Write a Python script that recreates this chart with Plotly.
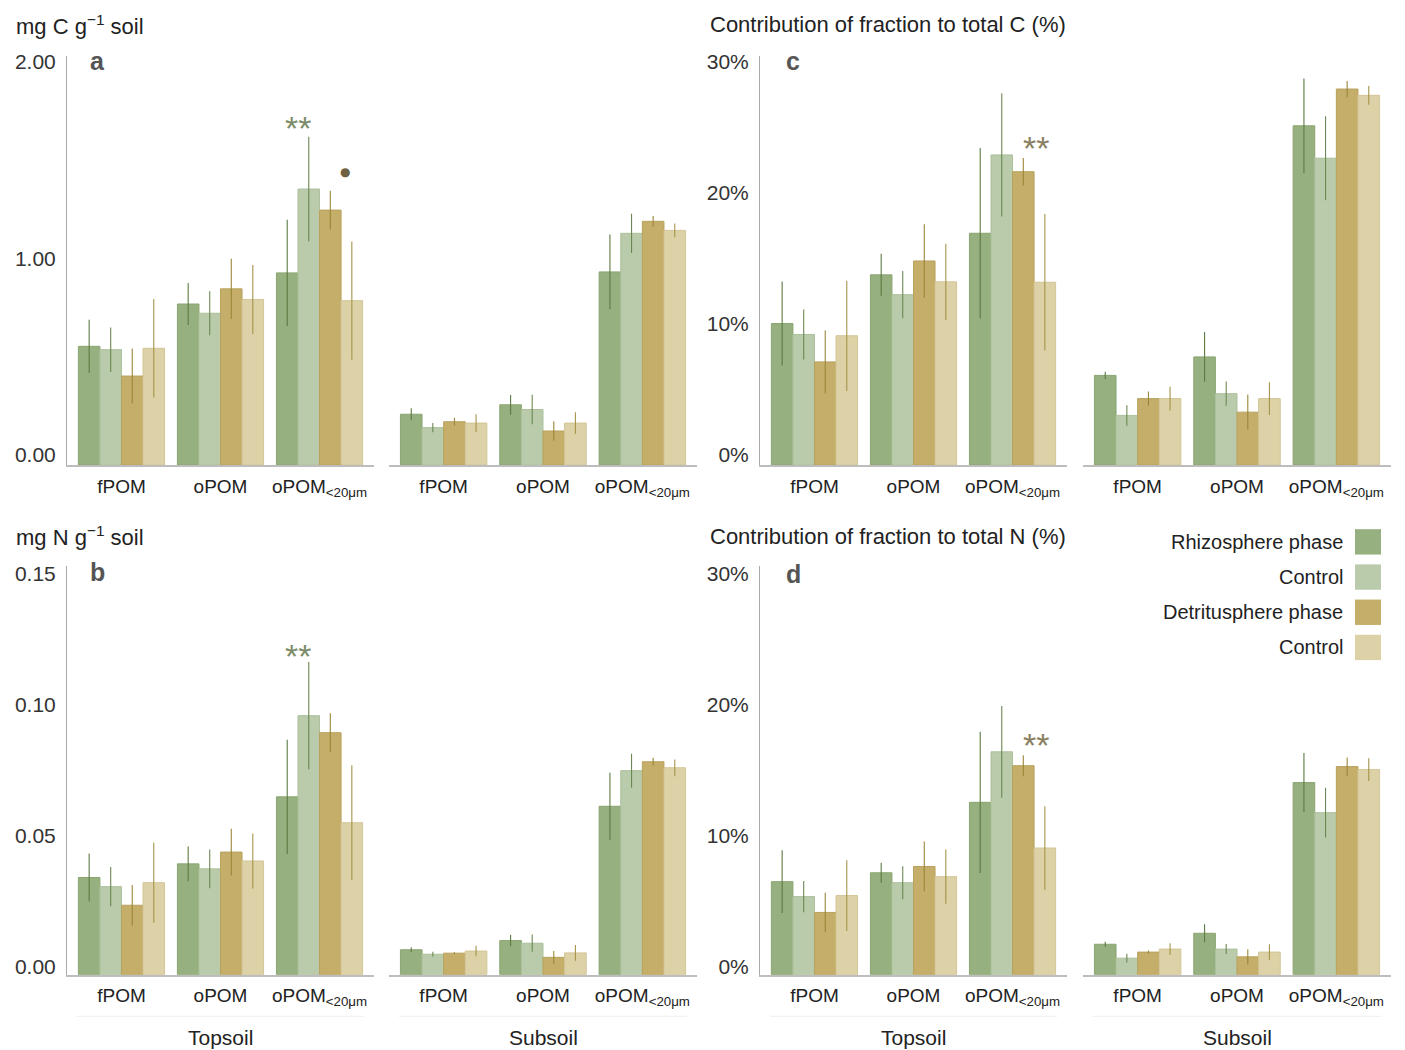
import plotly.graph_objects as go

# ---------------- data ----------------
categories = ["fPOM", "oPOM", "oPOM<sub>&lt;20μm</sub>"]
series = ["Rhizosphere phase", "Control", "Detritusphere phase", "Control"]
soils = ["Topsoil", "Subsoil"]

# rows = series (Rhizosphere, Control, Detritusphere, Control); cols = categories
# Panel a: mg C g-1 soil
a_top = [[0.603, 0.818, 0.976], [0.586, 0.771, 1.402], [0.452, 0.895, 1.295], [0.593, 0.841, 0.835]]
a_top_err = [[0.135, 0.107, 0.27], [0.113, 0.112, 0.266], [0.14, 0.153, 0.098], [0.25, 0.175, 0.30]]
a_sub = [[0.258, 0.306, 0.981], [0.19, 0.282, 1.177], [0.22, 0.173, 1.238], [0.213, 0.213, 1.192]]
a_sub_err = [[0.03, 0.05, 0.19], [0.023, 0.075, 0.10], [0.019, 0.05, 0.027], [0.045, 0.055, 0.035]]

# Panel b: mg N g-1 soil
b_top = [[0.0371, 0.0423, 0.0679], [0.0336, 0.0404, 0.0989], [0.0265, 0.0468, 0.0924], [0.0351, 0.0434, 0.058]]
b_top_err = [[0.0092, 0.0066, 0.0218], [0.0075, 0.0074, 0.0205], [0.0077, 0.0089, 0.0074], [0.0153, 0.0105, 0.022]]
b_sub = [[0.0095, 0.013, 0.0643], [0.0078, 0.012, 0.0779], [0.0082, 0.0066, 0.0813], [0.009, 0.0083, 0.079]]
b_sub_err = [[0.001, 0.0022, 0.0128], [0.0009, 0.0033, 0.0065], [0.0003, 0.0024, 0.0015], [0.002, 0.003, 0.0032]]

# Panel c: contribution of fraction to total C (%)
c_top = [[10.78, 14.49, 17.66], [9.95, 12.98, 23.63], [7.86, 15.55, 22.35], [9.85, 13.96, 13.93]]
c_top_err = [[3.2, 1.6, 6.5], [1.9, 1.8, 4.7], [2.4, 2.8, 1.05], [4.2, 2.9, 5.2]]
c_sub = [[6.83, 8.24, 25.85], [3.78, 5.44, 23.38], [5.06, 4.03, 28.65], [5.06, 5.06, 28.17]]
c_sub_err = [[0.28, 1.9, 3.6], [0.78, 0.93, 3.2], [0.55, 1.35, 0.62], [0.9, 1.25, 0.72]]

# Panel d: contribution of fraction to total N (%)
d_top = [[7.1, 7.78, 13.16], [5.96, 7.02, 17.02], [4.75, 8.26, 15.96], [6.04, 7.48, 9.67]]
d_top_err = [[2.4, 0.77, 5.4], [1.2, 1.26, 3.5], [1.5, 1.9, 0.8], [2.7, 2.07, 3.2]]
d_sub = [[2.32, 3.16, 14.67], [1.26, 1.95, 12.37], [1.72, 1.36, 15.89], [1.95, 1.72, 15.66]]
d_sub_err = [[0.2, 0.68, 2.25], [0.34, 0.38, 1.9], [0.12, 0.58, 0.7], [0.45, 0.6, 0.87]]

# ---------------- style ----------------
W, H = 1405, 1050
FONT = "Liberation Sans"
bar_colors = ["#97b07f", "#b9cbaa", "#c4ae69", "#ddd1a7"]
edge_colors = ["#8aa571", "#adc09c", "#b8a25d", "#d3c596"]
err_colors = ["#5d7a42", "#6c8852", "#9a8638", "#a59449"]

col_px = [(67, 374), (389, 697), (760, 1067), (1083, 1391)]
row_px = [(50, 463), (565, 977)]
BARGAP = 0.13
BW = (1 - BARGAP) / 4
XR = [-0.55, 2.55]

panels = [
    (0, 0, a_top, a_top_err, [0, 2.08], ".2f", 1.0, ""),
    (0, 1, a_sub, a_sub_err, [0, 2.08], ".2f", 1.0, ""),
    (0, 2, c_top, c_top_err, [0, 31.2], "d", 10, "%"),
    (0, 3, c_sub, c_sub_err, [0, 31.2], "d", 10, "%"),
    (1, 0, b_top, b_top_err, [0, 0.156], ".2f", 0.05, ""),
    (1, 1, b_sub, b_sub_err, [0, 0.156], ".2f", 0.05, ""),
    (1, 2, d_top, d_top_err, [0, 31.2], "d", 10, "%"),
    (1, 3, d_sub, d_sub_err, [0, 31.2], "d", 10, "%"),
]

fig = go.Figure()
layout = {}
for k, (r, c, means, errs, yr, tf, dt, suf) in enumerate(panels):
    n = k + 1
    xa = "x" if n == 1 else f"x{n}"
    ya = "y" if n == 1 else f"y{n}"
    for s in range(4):
        fig.add_trace(go.Bar(
            x=list(range(len(categories))), y=means[s],
            name=series[s], showlegend=False,
            marker=dict(color=bar_colors[s], line=dict(color=edge_colors[s], width=1)),
            error_y=dict(type="data", array=errs[s], visible=True, width=0,
                         thickness=1.1, color=err_colors[s]),
            xaxis=xa, yaxis=ya, offsetgroup=str(s), hoverinfo="skip",
        ))
    x0, x1 = col_px[c]
    y0, y1 = row_px[r]
    is_top = (c % 2 == 0)
    layout[f"xaxis{n}" if n > 1 else "xaxis"] = dict(
        domain=[x0 / W, x1 / W], anchor=ya, range=XR,
        tickvals=list(range(len(categories))), ticktext=categories,
        showline=True, linecolor="#bdbdbd", linewidth=1.5,
        ticks="outside", ticklen=3, tickcolor="rgba(0,0,0,0)",
        showgrid=False, zeroline=False,
        tickfont=dict(family=FONT, size=19, color="#222"), fixedrange=True,
    )
    layout[f"yaxis{n}" if n > 1 else "yaxis"] = dict(
        domain=[1 - y1 / H, 1 - y0 / H], anchor=xa, range=yr,
        dtick=dt, tick0=0, tickformat=tf, ticksuffix=suf,
        showline=is_top, linecolor="#aaaaaa", linewidth=1,
        showticklabels=is_top, ticks="", ticklabelstandoff=6,
        ticklabelshift=(-10 if r == 0 else -8),
        showgrid=False, zeroline=False,
        tickfont=dict(family=FONT, size=21, color="#333"), fixedrange=True,
    )

fig.update_layout(
    width=W, height=H, autosize=False, margin=dict(l=0, r=0, t=0, b=0),
    paper_bgcolor="white", plot_bgcolor="white",
    barmode="group", bargap=BARGAP, bargroupgap=0,
    font=dict(family=FONT, color="#222"),
    showlegend=False, **layout,
)

ann = []
shapes = []
titles = [
    (14, 19, "mg C g<sup>−1</sup> soil"),
    (708, 19, "Contribution of fraction to total C (%)"),
    (14, 535, "mg N g<sup>−1</sup> soil"),
    (708, 535, "Contribution of fraction to total N (%)"),
]
for x, y, t in titles:
    ann.append(dict(x=x / W, y=1 - y / H, xref="paper", yref="paper", text=t,
                    showarrow=False, xanchor="left", yanchor="middle",
                    font=dict(family=FONT, size=22, color="#222")))
for x, y, t in [(97, 55, "a"), (793, 55, "c"), (97, 571, "b"), (793, 573, "d")]:
    ann.append(dict(x=x / W, y=1 - y / H, xref="paper", yref="paper", text=f"<b>{t}</b>",
                    showarrow=False, xanchor="center", yanchor="middle",
                    font=dict(family=FONT, size=25, color="#555")))

# significance markers (panel, category, pair side, y, text, color, size, yshift, xshift)
sig = [
    (1, 2, -1, 1.718, "**", "#7d8d69", 34, -1, 0),
    (1, 2, +1, 1.466, "●", "#6e6242", 12, 4, 4),
    (5, 2, -1, 0.1234, "**", "#7d8d69", 34, -4, 0),
    (3, 2, +1, 24.26, "**", "#8a8061", 34, -1, 2),
    (7, 2, +1, 17.95, "**", "#8a8061", 34, -5, 2),
]
for n, cat, side, y, t, col, sz, ysh, xsh in sig:
    xa = "x" if n == 1 else f"x{n}"
    ya = "y" if n == 1 else f"y{n}"
    ann.append(dict(x=cat + side * BW, y=y, xref=xa, yref=ya,
                    text=t, showarrow=False, xanchor="center", yanchor="middle",
                    yshift=ysh, xshift=xsh,
                    font=dict(family="DejaVu Sans", size=sz, color=col) if t == "●"
                    else dict(family=FONT, size=sz, color=col)))

for n, soil in [(5, "Topsoil"), (6, "Subsoil"), (7, "Topsoil"), (8, "Subsoil")]:
    xa = f"x{n}"
    ann.append(dict(x=1, y=1 - 1040 / H, xref=xa, yref="paper", text=soil,
                    showarrow=False, xanchor="center", yanchor="middle",
                    font=dict(family=FONT, size=21, color="#222")))
    shapes.append(dict(type="line", xref=xa, yref="paper", x0=-0.45, x1=2.45,
                       y0=1 - 1019 / H, y1=1 - 1019 / H,
                       line=dict(color="#eeeeee", width=1)))

leg_y = [540.5, 576, 611.5, 647]
for s in range(4):
    yc = leg_y[s]
    ann.append(dict(x=1345 / W, y=1 - yc / H, xref="paper", yref="paper", text=series[s],
                    showarrow=False, xanchor="right", yanchor="middle",
                    font=dict(family=FONT, size=20, color="#222")))
    shapes.append(dict(type="rect", xref="paper", yref="paper",
                       x0=1355 / W, x1=1381 / W, y0=1 - (yc + 12.8) / H, y1=1 - (yc - 12.8) / H,
                       fillcolor=bar_colors[s], line=dict(width=0)))

fig.update_layout(annotations=ann, shapes=shapes)

fix_js = """
document.documentElement.style.margin='0';
document.documentElement.style.padding='0';
document.documentElement.style.overflow='hidden';
document.body.style.margin='0';
document.body.style.padding='0';
document.body.style.overflow='hidden';
var gd = document.getElementById('{plot_id}');
gd.style.display='block';
if (gd.parentElement) { gd.parentElement.style.height='1050px'; gd.parentElement.style.overflow='hidden'; }
"""
fig.write_html("out.html", post_script=fix_js, config={"displayModeBar": False})
